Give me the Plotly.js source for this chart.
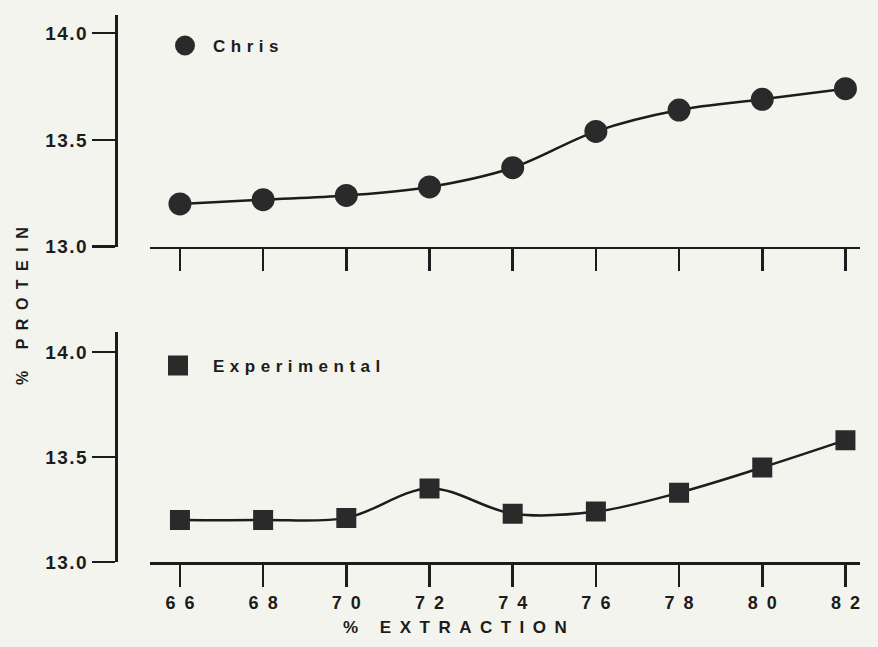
<!DOCTYPE html>
<html>
<head>
<meta charset="utf-8">
<script src="https://cdn.plot.ly/plotly-3.0.1.min.js"></script>
<style>
  html, body { margin: 0; padding: 0; background: #f4f4ee; }
  #chart { width: 878px; height: 647px; }
  .ytick text, .y2tick text { letter-spacing: 1.5px; }
  text.legendtext, .legend text, .legend2 text { letter-spacing: 5.5px; }
  g.scrollbox { clip-path: none !important; }
  .annotation-text { letter-spacing: 8.5px; }
</style>
</head>
<body>
<div id="chart"></div>
<script>
// ---- data ----
const extraction = [66, 68, 70, 72, 74, 76, 78, 80, 82];
const chrisProtein = [13.20, 13.22, 13.24, 13.28, 13.37, 13.54, 13.64, 13.69, 13.74];
const experimentalProtein = [13.20, 13.20, 13.21, 13.35, 13.23, 13.24, 13.33, 13.45, 13.58];
const proteinTicks = [13.0, 13.5, 14.0];
const proteinTickText = ['13.0', '13.5', '14.0'];
const seriesNames = ['Chris', 'Experimental'];
const xTitle = '% EXTRACTION';
const yTitle = '% PROTEIN';

const ink = '#1c1c1c';
const markInk = '#2a2a2a';
const bg = '#f4f4ee';

const traces = [
  { x: extraction, y: chrisProtein, xaxis: 'x', yaxis: 'y', mode: 'lines',
    line: { shape: 'spline', smoothing: 1, color: ink, width: 2.5 },
    showlegend: false, hoverinfo: 'skip' },
  { x: extraction, y: chrisProtein, xaxis: 'x', yaxis: 'y', mode: 'markers',
    name: seriesNames[0], legend: 'legend',
    marker: { symbol: 'circle', size: 19, color: markInk, line: { width: 4, color: markInk } } },
  { x: extraction, y: experimentalProtein, xaxis: 'x2', yaxis: 'y2', mode: 'lines',
    line: { shape: 'spline', smoothing: 1, color: ink, width: 2.5 },
    showlegend: false, hoverinfo: 'skip' },
  { x: extraction, y: experimentalProtein, xaxis: 'x2', yaxis: 'y2', mode: 'markers',
    name: seriesNames[1], legend: 'legend2',
    marker: { symbol: 'square', size: 16, color: markInk, line: { width: 4, color: markInk } } }
];

const W = 878, H = 647;
const mL = 116, mR = 18, mT = 15, mB = 85;
const pw = W - mL - mR, ph = H - mT - mB;
const px2x = p => (p - mL) / pw;
const py2y = p => (H - mB - p) / ph;

const xRange = [65.28, 82.35];
const xDomain = [px2x(150), 1];
const fam = 'Liberation Sans, Arial, sans-serif';

function xAxis(anchor, labels) {
  return {
    anchor: anchor, domain: xDomain, range: xRange,
    tickmode: 'array', tickvals: extraction,
    ticktext: extraction.map(v => String(v).split('').join('\u2002')),
    showticklabels: labels, ticks: 'outside', ticklen: 22, tickwidth: 2.5, tickcolor: ink,
    showline: true, linecolor: ink, linewidth: 2.5, showgrid: false, zeroline: false,
    tickfont: { family: fam, size: 18, color: ink, weight: 700 },
    ticklabelstandoff: 1
  };
}
function yAxis(domain, range) {
  return {
    anchor: 'free', position: 0, domain: domain, range: range,
    tickmode: 'array', tickvals: proteinTicks, ticktext: proteinTickText,
    ticks: 'outside', ticklen: 23, tickwidth: 2.5, tickcolor: ink,
    showline: true, linecolor: ink, linewidth: 2.5, showgrid: false, zeroline: false,
    tickfont: { family: fam, size: 19, color: ink, weight: 700 }
  };
}

const legendFont = { family: fam, size: 17, color: ink, weight: 700 };

const layout = {
  width: W, height: H,
  margin: { l: mL, r: mR, t: mT, b: mB },
  paper_bgcolor: bg, plot_bgcolor: bg,
  showlegend: true,
  xaxis: xAxis('y', false),
  yaxis: yAxis([py2y(246.7), 1], [13.0, 14.085]),
  xaxis2: xAxis('y2', true),
  yaxis2: yAxis([0, py2y(332)], [13.0, 14.095]),
  legend: { x: px2x(157), y: py2y(46), xanchor: 'left', yanchor: 'middle', itemwidth: 46,
            bgcolor: 'rgba(0,0,0,0)', font: legendFont },
  legend2: { x: px2x(143), y: py2y(366), xanchor: 'left', yanchor: 'middle', itemwidth: 60,
             bgcolor: 'rgba(0,0,0,0)', font: legendFont },
  annotations: [
    { text: xTitle, xref: 'paper', yref: 'paper', x: px2x(459), y: py2y(627),
      xanchor: 'center', yanchor: 'middle', showarrow: false,
      font: { family: fam, size: 17, color: ink, weight: 700 } },
    { text: yTitle, xref: 'paper', yref: 'paper', x: px2x(22), y: py2y(302),
      xanchor: 'center', yanchor: 'middle', showarrow: false, textangle: -90,
      font: { family: fam, size: 16, color: ink, weight: 700 } }
  ]
};

Plotly.newPlot('chart', traces, layout, { displayModeBar: false, staticPlot: true });
</script>
</body>
</html>
